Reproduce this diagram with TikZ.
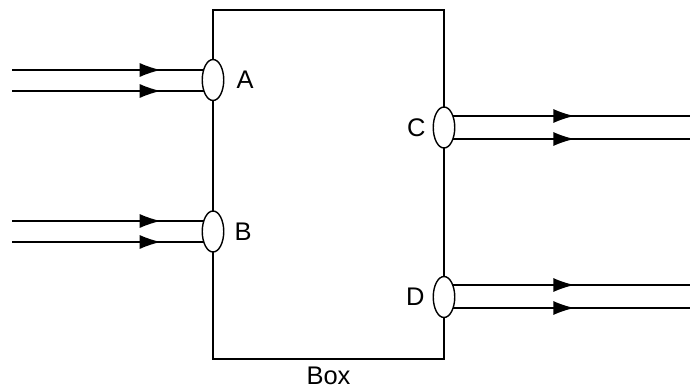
\documentclass[tikz,border=0pt]{standalone}
\usepackage{fontspec}
\setmainfont{Liberation Sans}
\usetikzlibrary{shapes}
\usetikzlibrary{positioning}
\usetikzlibrary{arrows.meta}
\usetikzlibrary{decorations.markings}
\usetikzlibrary{backgrounds}

\begin{document}
\begin{tikzpicture}[
    x=0.02cm, y=-0.02cm,
    every node/.style={font=\fontsize{14.5}{17}\selectfont},
    box/.style={draw, line width=0.9pt, minimum width=4.62cm, minimum height=6.98cm, inner sep=0},
    port/.style={draw, line width=0.8pt, ellipse, fill=white, minimum width=0.43cm, minimum height=0.82cm, inner sep=0},
    tag/.style={inner sep=1pt},
    flow/.style={line width=0.8pt, postaction={decorate}, decoration={markings, mark=at position #1 with {\arrow{Latex[length=0.42cm, width=0.28cm]}}}}
]
\useasboundingbox (0,0) rectangle (690,392);
\node[box] (box) at (328.5,184.5) {};
\node[tag, below=0.1cm of box] (boxname) {Box};
% ports on the box
\node[port] (A) at (213,80) {};
\node[port] (B) at (213,231.5) {};
\node[port] (C) at (444,127.5) {};
\node[port] (D) at (444,297) {};
\node[tag, right=0.2cm of A] (labA) {A};
\node[tag, right=0.16cm of B] (labB) {B};
\node[tag, left=0.1cm of C] (labC) {C};
\node[tag, left=0.12cm of D] (labD) {D};
% free ends of the lines
\coordinate (a1) at (12,70);
\coordinate (a2) at (12,91);
\coordinate (b1) at (12,221);
\coordinate (b2) at (12,242);
\coordinate (c1) at (690,116);
\coordinate (c2) at (690,139);
\coordinate (d1) at (690,285);
\coordinate (d2) at (690,308);
\begin{scope}[on background layer]
\draw[flow=0.74] (a1) -- (A.center |- a1);
\draw[flow=0.74] (a2) -- (A.center |- a2);
\draw[flow=0.74] (b1) -- (B.center |- b1);
\draw[flow=0.74] (b2) -- (B.center |- b2);
\draw[flow=0.53] (C.center |- c1) -- (c1);
\draw[flow=0.53] (C.center |- c2) -- (c2);
\draw[flow=0.53] (D.center |- d1) -- (d1);
\draw[flow=0.53] (D.center |- d2) -- (d2);
\end{scope}
\end{tikzpicture}
\end{document}
